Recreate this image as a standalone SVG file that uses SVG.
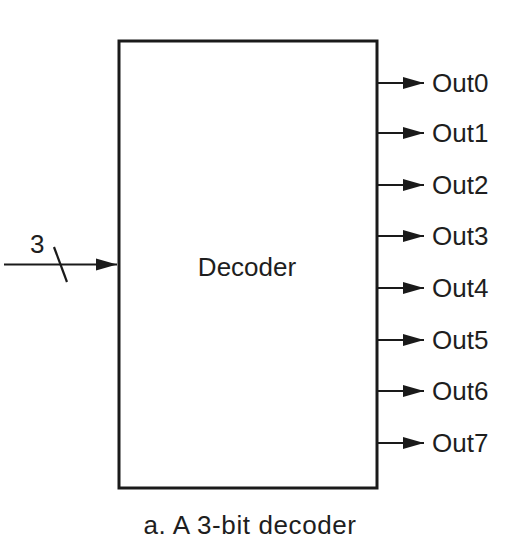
<svg xmlns="http://www.w3.org/2000/svg" width="511" height="560" viewBox="0 0 511 560">
<style>
.ln{stroke:#1a1a1a;stroke-width:2.2;fill:none}
.lb{font-family:"Liberation Sans",Arial,sans-serif;font-size:26px;fill:#1e1e1e}
</style>
<defs>
<marker id="ah" markerWidth="22" markerHeight="13" refX="21" refY="6.5" orient="auto" markerUnits="userSpaceOnUse">
<path d="M0,0.5 L21,6.5 L0,12.5 Z" fill="#1a1a1a"/>
</marker>
</defs>
<rect width="511" height="560" fill="#fff"/>
<g id="decoder">
<rect x="119" y="41" width="258" height="447" fill="none" stroke="#1a1a1a" stroke-width="3"/>
<text x="247" y="276" text-anchor="middle" class="lb" font-size="27">Decoder</text>
</g>
<g id="connectors">
<line class="ln" x1="4" y1="264.5" x2="117" y2="264.5" marker-end="url(#ah)"/>
<line class="ln" x1="54" y1="247" x2="67" y2="282" stroke-width="2.5"/>
<line class="ln" x1="377" y1="83" x2="424" y2="83" marker-end="url(#ah)"/>
<line class="ln" x1="377" y1="133" x2="424" y2="133" marker-end="url(#ah)"/>
<line class="ln" x1="377" y1="185" x2="424" y2="185" marker-end="url(#ah)"/>
<line class="ln" x1="377" y1="236" x2="424" y2="236" marker-end="url(#ah)"/>
<line class="ln" x1="377" y1="288" x2="424" y2="288" marker-end="url(#ah)"/>
<line class="ln" x1="377" y1="340" x2="424" y2="340" marker-end="url(#ah)"/>
<line class="ln" x1="377" y1="391" x2="424" y2="391" marker-end="url(#ah)"/>
<line class="ln" x1="377" y1="443" x2="424" y2="443" marker-end="url(#ah)"/>
</g>
<g id="labels">
<text x="30" y="253" class="lb" font-size="25">3</text>
<text x="432" y="92" class="lb">Out0</text>
<text x="432" y="142" class="lb">Out1</text>
<text x="432" y="194" class="lb">Out2</text>
<text x="432" y="245" class="lb">Out3</text>
<text x="432" y="297" class="lb">Out4</text>
<text x="432" y="349" class="lb">Out5</text>
<text x="432" y="400" class="lb">Out6</text>
<text x="432" y="452" class="lb">Out7</text>
<text x="250" y="534" text-anchor="middle" class="lb" font-size="23" letter-spacing="0.6" fill="#2a2a2a">a. A 3-bit decoder</text>
</g>
</svg>
